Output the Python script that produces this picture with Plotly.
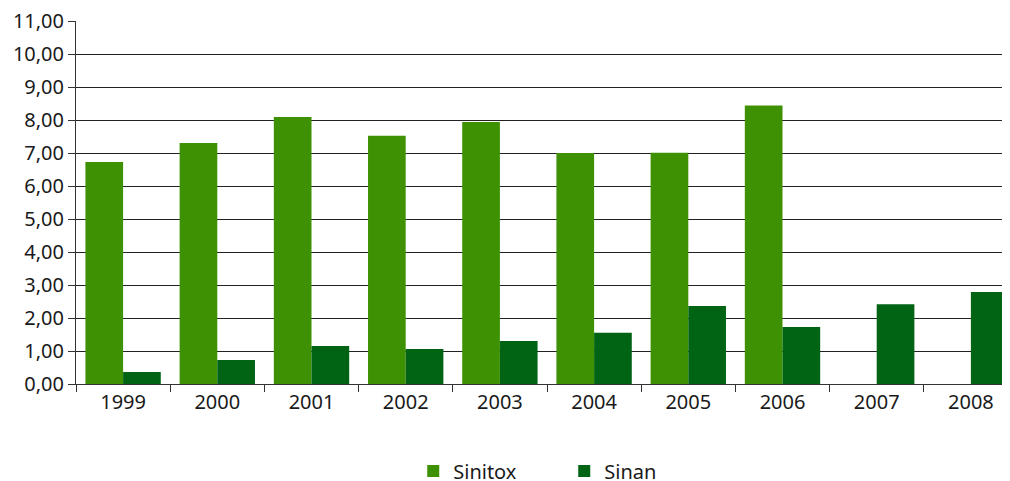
import plotly.graph_objects as go

years = ["1999", "2000", "2001", "2002", "2003", "2004", "2005", "2006", "2007", "2008"]
sinitox = [6.73, 7.30, 8.09, 7.52, 7.94, 7.00, 7.01, 8.44, 0, 0]
sinan = [0.36, 0.73, 1.15, 1.06, 1.30, 1.55, 2.36, 1.73, 2.42, 2.79]
y_ticks = [0, 1, 2, 3, 4, 5, 6, 7, 8, 9, 10, 11]

font = dict(family="Noto Sans, Open Sans, sans-serif", size=20, color="#1a1a1a")

fig = go.Figure()
fig.add_trace(go.Bar(x=years, y=sinitox, name="Sinitox",
                     marker=dict(color="#3f9104", line=dict(width=0))))
fig.add_trace(go.Bar(x=years, y=sinan, name="Sinan",
                     marker=dict(color="#006414", line=dict(width=0))))

# the page body adds an 8px offset, so margins are trimmed by 8
fig.update_layout(
    width=1010, height=481,
    margin=dict(l=68, r=0, t=13, b=105, autoexpand=False),
    plot_bgcolor="white", paper_bgcolor="white",
    barmode="group", bargap=0.2, bargroupgap=0,
    separators=",.",
    font=font,
    showlegend=True,
    legend=dict(orientation="h", x=0.358, xanchor="left", y=-0.186, yanchor="top",
                font=dict(size=20), itemwidth=30, entrywidthmode="pixels", entrywidth=106),
)
fig.update_xaxes(
    type="category", range=[-0.5, 9.5], tickson="boundaries",
    ticks="outside", ticklen=7, tickcolor="#333", tickwidth=1,
    showline=True, linecolor="#333", linewidth=1, showgrid=False,
    tickfont=dict(size=20), automargin=False,
)
fig.update_yaxes(
    range=[0, 11], tickvals=y_ticks, tickformat=".2f",
    ticks="outside", ticklen=7, tickcolor="#333", tickwidth=1,
    showline=True, linecolor="#333", linewidth=1,
    showgrid=True, gridcolor="#222", gridwidth=1, zeroline=False,
    tickfont=dict(size=20), automargin=False, ticklabeloverflow="allow",
)

fig.write_html("out.html")
